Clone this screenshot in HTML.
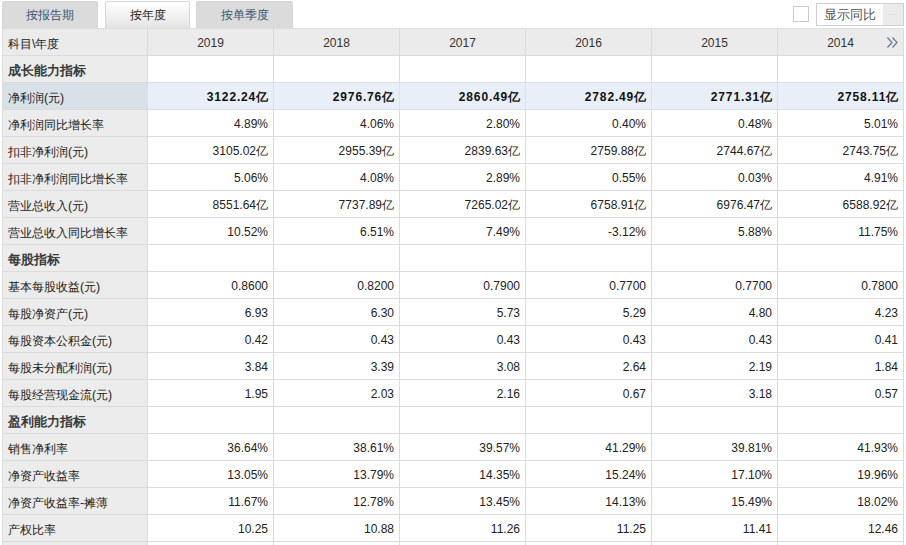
<!DOCTYPE html><html><head><meta charset="utf-8"><style>
*{margin:0;padding:0;box-sizing:border-box}
html,body{width:906px;height:545px;overflow:hidden;background:#fff;font-family:"Liberation Sans",sans-serif;position:relative}
.a{position:absolute}
.tab{position:absolute;top:1px;padding-top:0px;height:27px;border:1px solid #d6d6d6;border-bottom:none;border-radius:2px 2px 0 0;font-size:12px;line-height:26px;text-align:center}
.tab.in{background:#dbdbdb;color:#3a5574}
.tab.on{background:linear-gradient(#ffffff,#e4e4e4);color:#222}
.cell{position:absolute;height:26px;line-height:26px;font-size:12px;color:#222;white-space:nowrap}
.lab{padding-left:6px;color:#222;font-size:12.3px}
.lab.b{font-size:13px;color:#3a3a3a}
.num{text-align:right;padding-right:5px}
.b{font-weight:bold;color:#111}
.num.b{letter-spacing:0.85px;padding-right:4px}
.hd{text-align:center;color:#333}
</style></head><body>
<div class="tab in" style="left:2px;width:96px">按报告期</div>
<div class="tab on" style="left:105px;width:85px">按年度</div>
<div class="tab in" style="left:196px;width:97px">按单季度</div>
<div class="a" style="left:793px;top:6px;width:16px;height:16px;border:1px solid #ccc;background:#fff"></div>
<div class="a" style="left:816px;top:3px;width:88px;height:23px;border:1px solid #d0d0d0;background:#fff"></div>
<div class="a" style="left:883px;top:4px;width:20px;height:21px;background:#ebebeb"></div>
<div class="a" style="left:888px;top:14px;width:7px;height:1px;background:#dedede"></div>
<div class="a" style="left:824px;top:4px;height:21px;line-height:21px;font-size:13px;color:#555">显示同比</div>
<div class="a" style="left:2px;top:28px;width:902px;height:27px;background:#ebebeb"></div>
<div class="a" style="left:2px;top:55px;width:145px;height:490px;background:#ececec"></div>
<div class="a" style="left:2px;top:82px;width:145px;height:27px;background:#d9e1e8"></div>
<div class="a" style="left:147px;top:82px;width:757px;height:27px;background:#e8eff8"></div>
<div class="a" style="left:2px;top:28px;width:902px;height:1px;background:#dedede"></div>
<div class="a" style="left:2px;top:55px;width:902px;height:1px;background:#dcdcdc"></div>
<div class="a" style="left:2px;top:82px;width:902px;height:1px;background:#dcdcdc"></div>
<div class="a" style="left:2px;top:109px;width:902px;height:1px;background:#dcdcdc"></div>
<div class="a" style="left:2px;top:136px;width:902px;height:1px;background:#dcdcdc"></div>
<div class="a" style="left:2px;top:163px;width:902px;height:1px;background:#dcdcdc"></div>
<div class="a" style="left:2px;top:190px;width:902px;height:1px;background:#dcdcdc"></div>
<div class="a" style="left:2px;top:217px;width:902px;height:1px;background:#dcdcdc"></div>
<div class="a" style="left:2px;top:244px;width:902px;height:1px;background:#dcdcdc"></div>
<div class="a" style="left:2px;top:271px;width:902px;height:1px;background:#dcdcdc"></div>
<div class="a" style="left:2px;top:298px;width:902px;height:1px;background:#dcdcdc"></div>
<div class="a" style="left:2px;top:325px;width:902px;height:1px;background:#dcdcdc"></div>
<div class="a" style="left:2px;top:352px;width:902px;height:1px;background:#dcdcdc"></div>
<div class="a" style="left:2px;top:379px;width:902px;height:1px;background:#dcdcdc"></div>
<div class="a" style="left:2px;top:406px;width:902px;height:1px;background:#dcdcdc"></div>
<div class="a" style="left:2px;top:433px;width:902px;height:1px;background:#dcdcdc"></div>
<div class="a" style="left:2px;top:460px;width:902px;height:1px;background:#dcdcdc"></div>
<div class="a" style="left:2px;top:487px;width:902px;height:1px;background:#dcdcdc"></div>
<div class="a" style="left:2px;top:514px;width:902px;height:1px;background:#dcdcdc"></div>
<div class="a" style="left:2px;top:541px;width:902px;height:1px;background:#dcdcdc"></div>
<div class="a" style="left:2px;top:28px;width:1px;height:517px;background:#dcdcdc"></div>
<div class="a" style="left:147px;top:28px;width:1px;height:517px;background:#dcdcdc"></div>
<div class="a" style="left:273px;top:28px;width:1px;height:517px;background:#dcdcdc"></div>
<div class="a" style="left:399px;top:28px;width:1px;height:517px;background:#dcdcdc"></div>
<div class="a" style="left:525px;top:28px;width:1px;height:517px;background:#dcdcdc"></div>
<div class="a" style="left:651px;top:28px;width:1px;height:517px;background:#dcdcdc"></div>
<div class="a" style="left:777px;top:28px;width:1px;height:517px;background:#dcdcdc"></div>
<div class="a" style="left:903px;top:28px;width:1px;height:517px;background:#dcdcdc"></div>
<div class="a" style="left:147px;top:83px;width:1px;height:26px;background:#dbe2ea"></div>
<div class="a" style="left:273px;top:83px;width:1px;height:26px;background:#dbe2ea"></div>
<div class="a" style="left:399px;top:83px;width:1px;height:26px;background:#dbe2ea"></div>
<div class="a" style="left:525px;top:83px;width:1px;height:26px;background:#dbe2ea"></div>
<div class="a" style="left:651px;top:83px;width:1px;height:26px;background:#dbe2ea"></div>
<div class="a" style="left:777px;top:83px;width:1px;height:26px;background:#dbe2ea"></div>
<div class="cell lab" style="left:2px;top:31px;width:145px">科目\年度</div>
<div class="cell hd" style="left:148px;top:30px;width:125px">2019</div>
<div class="cell hd" style="left:274px;top:30px;width:125px">2018</div>
<div class="cell hd" style="left:400px;top:30px;width:125px">2017</div>
<div class="cell hd" style="left:526px;top:30px;width:125px">2016</div>
<div class="cell hd" style="left:652px;top:30px;width:125px">2015</div>
<div class="cell hd" style="left:778px;top:30px;width:125px">2014</div>
<svg class="a" style="left:886px;top:36px" width="12" height="13" viewBox="0 0 12 13"><path d="M1.5 1.5 L6 6.5 L1.5 11.5 M6.5 1.5 L11 6.5 L6.5 11.5" fill="none" stroke="#6f8099" stroke-width="1.4"/></svg>
<div class="cell lab b" style="left:2px;top:58px;width:145px">成长能力指标</div>
<div class="cell lab" style="left:2px;top:85px;width:145px">净利润(元)</div>
<div class="cell num b" style="left:148px;top:84px;width:125px">3122.24亿</div>
<div class="cell num b" style="left:274px;top:84px;width:125px">2976.76亿</div>
<div class="cell num b" style="left:400px;top:84px;width:125px">2860.49亿</div>
<div class="cell num b" style="left:526px;top:84px;width:125px">2782.49亿</div>
<div class="cell num b" style="left:652px;top:84px;width:125px">2771.31亿</div>
<div class="cell num b" style="left:778px;top:84px;width:125px">2758.11亿</div>
<div class="cell lab" style="left:2px;top:112px;width:145px">净利润同比增长率</div>
<div class="cell num" style="left:148px;top:111px;width:125px">4.89%</div>
<div class="cell num" style="left:274px;top:111px;width:125px">4.06%</div>
<div class="cell num" style="left:400px;top:111px;width:125px">2.80%</div>
<div class="cell num" style="left:526px;top:111px;width:125px">0.40%</div>
<div class="cell num" style="left:652px;top:111px;width:125px">0.48%</div>
<div class="cell num" style="left:778px;top:111px;width:125px">5.01%</div>
<div class="cell lab" style="left:2px;top:139px;width:145px">扣非净利润(元)</div>
<div class="cell num" style="left:148px;top:138px;width:125px">3105.02亿</div>
<div class="cell num" style="left:274px;top:138px;width:125px">2955.39亿</div>
<div class="cell num" style="left:400px;top:138px;width:125px">2839.63亿</div>
<div class="cell num" style="left:526px;top:138px;width:125px">2759.88亿</div>
<div class="cell num" style="left:652px;top:138px;width:125px">2744.67亿</div>
<div class="cell num" style="left:778px;top:138px;width:125px">2743.75亿</div>
<div class="cell lab" style="left:2px;top:166px;width:145px">扣非净利润同比增长率</div>
<div class="cell num" style="left:148px;top:165px;width:125px">5.06%</div>
<div class="cell num" style="left:274px;top:165px;width:125px">4.08%</div>
<div class="cell num" style="left:400px;top:165px;width:125px">2.89%</div>
<div class="cell num" style="left:526px;top:165px;width:125px">0.55%</div>
<div class="cell num" style="left:652px;top:165px;width:125px">0.03%</div>
<div class="cell num" style="left:778px;top:165px;width:125px">4.91%</div>
<div class="cell lab" style="left:2px;top:193px;width:145px">营业总收入(元)</div>
<div class="cell num" style="left:148px;top:192px;width:125px">8551.64亿</div>
<div class="cell num" style="left:274px;top:192px;width:125px">7737.89亿</div>
<div class="cell num" style="left:400px;top:192px;width:125px">7265.02亿</div>
<div class="cell num" style="left:526px;top:192px;width:125px">6758.91亿</div>
<div class="cell num" style="left:652px;top:192px;width:125px">6976.47亿</div>
<div class="cell num" style="left:778px;top:192px;width:125px">6588.92亿</div>
<div class="cell lab" style="left:2px;top:220px;width:145px">营业总收入同比增长率</div>
<div class="cell num" style="left:148px;top:219px;width:125px">10.52%</div>
<div class="cell num" style="left:274px;top:219px;width:125px">6.51%</div>
<div class="cell num" style="left:400px;top:219px;width:125px">7.49%</div>
<div class="cell num" style="left:526px;top:219px;width:125px">-3.12%</div>
<div class="cell num" style="left:652px;top:219px;width:125px">5.88%</div>
<div class="cell num" style="left:778px;top:219px;width:125px">11.75%</div>
<div class="cell lab b" style="left:2px;top:247px;width:145px">每股指标</div>
<div class="cell lab" style="left:2px;top:274px;width:145px">基本每股收益(元)</div>
<div class="cell num" style="left:148px;top:273px;width:125px">0.8600</div>
<div class="cell num" style="left:274px;top:273px;width:125px">0.8200</div>
<div class="cell num" style="left:400px;top:273px;width:125px">0.7900</div>
<div class="cell num" style="left:526px;top:273px;width:125px">0.7700</div>
<div class="cell num" style="left:652px;top:273px;width:125px">0.7700</div>
<div class="cell num" style="left:778px;top:273px;width:125px">0.7800</div>
<div class="cell lab" style="left:2px;top:301px;width:145px">每股净资产(元)</div>
<div class="cell num" style="left:148px;top:300px;width:125px">6.93</div>
<div class="cell num" style="left:274px;top:300px;width:125px">6.30</div>
<div class="cell num" style="left:400px;top:300px;width:125px">5.73</div>
<div class="cell num" style="left:526px;top:300px;width:125px">5.29</div>
<div class="cell num" style="left:652px;top:300px;width:125px">4.80</div>
<div class="cell num" style="left:778px;top:300px;width:125px">4.23</div>
<div class="cell lab" style="left:2px;top:328px;width:145px">每股资本公积金(元)</div>
<div class="cell num" style="left:148px;top:327px;width:125px">0.42</div>
<div class="cell num" style="left:274px;top:327px;width:125px">0.43</div>
<div class="cell num" style="left:400px;top:327px;width:125px">0.43</div>
<div class="cell num" style="left:526px;top:327px;width:125px">0.43</div>
<div class="cell num" style="left:652px;top:327px;width:125px">0.43</div>
<div class="cell num" style="left:778px;top:327px;width:125px">0.41</div>
<div class="cell lab" style="left:2px;top:355px;width:145px">每股未分配利润(元)</div>
<div class="cell num" style="left:148px;top:354px;width:125px">3.84</div>
<div class="cell num" style="left:274px;top:354px;width:125px">3.39</div>
<div class="cell num" style="left:400px;top:354px;width:125px">3.08</div>
<div class="cell num" style="left:526px;top:354px;width:125px">2.64</div>
<div class="cell num" style="left:652px;top:354px;width:125px">2.19</div>
<div class="cell num" style="left:778px;top:354px;width:125px">1.84</div>
<div class="cell lab" style="left:2px;top:382px;width:145px">每股经营现金流(元)</div>
<div class="cell num" style="left:148px;top:381px;width:125px">1.95</div>
<div class="cell num" style="left:274px;top:381px;width:125px">2.03</div>
<div class="cell num" style="left:400px;top:381px;width:125px">2.16</div>
<div class="cell num" style="left:526px;top:381px;width:125px">0.67</div>
<div class="cell num" style="left:652px;top:381px;width:125px">3.18</div>
<div class="cell num" style="left:778px;top:381px;width:125px">0.57</div>
<div class="cell lab b" style="left:2px;top:409px;width:145px">盈利能力指标</div>
<div class="cell lab" style="left:2px;top:436px;width:145px">销售净利率</div>
<div class="cell num" style="left:148px;top:435px;width:125px">36.64%</div>
<div class="cell num" style="left:274px;top:435px;width:125px">38.61%</div>
<div class="cell num" style="left:400px;top:435px;width:125px">39.57%</div>
<div class="cell num" style="left:526px;top:435px;width:125px">41.29%</div>
<div class="cell num" style="left:652px;top:435px;width:125px">39.81%</div>
<div class="cell num" style="left:778px;top:435px;width:125px">41.93%</div>
<div class="cell lab" style="left:2px;top:463px;width:145px">净资产收益率</div>
<div class="cell num" style="left:148px;top:462px;width:125px">13.05%</div>
<div class="cell num" style="left:274px;top:462px;width:125px">13.79%</div>
<div class="cell num" style="left:400px;top:462px;width:125px">14.35%</div>
<div class="cell num" style="left:526px;top:462px;width:125px">15.24%</div>
<div class="cell num" style="left:652px;top:462px;width:125px">17.10%</div>
<div class="cell num" style="left:778px;top:462px;width:125px">19.96%</div>
<div class="cell lab" style="left:2px;top:490px;width:145px">净资产收益率-摊薄</div>
<div class="cell num" style="left:148px;top:489px;width:125px">11.67%</div>
<div class="cell num" style="left:274px;top:489px;width:125px">12.78%</div>
<div class="cell num" style="left:400px;top:489px;width:125px">13.45%</div>
<div class="cell num" style="left:526px;top:489px;width:125px">14.13%</div>
<div class="cell num" style="left:652px;top:489px;width:125px">15.49%</div>
<div class="cell num" style="left:778px;top:489px;width:125px">18.02%</div>
<div class="cell lab" style="left:2px;top:517px;width:145px">产权比率</div>
<div class="cell num" style="left:148px;top:516px;width:125px">10.25</div>
<div class="cell num" style="left:274px;top:516px;width:125px">10.88</div>
<div class="cell num" style="left:400px;top:516px;width:125px">11.26</div>
<div class="cell num" style="left:526px;top:516px;width:125px">11.25</div>
<div class="cell num" style="left:652px;top:516px;width:125px">11.41</div>
<div class="cell num" style="left:778px;top:516px;width:125px">12.46</div>
</body></html>
